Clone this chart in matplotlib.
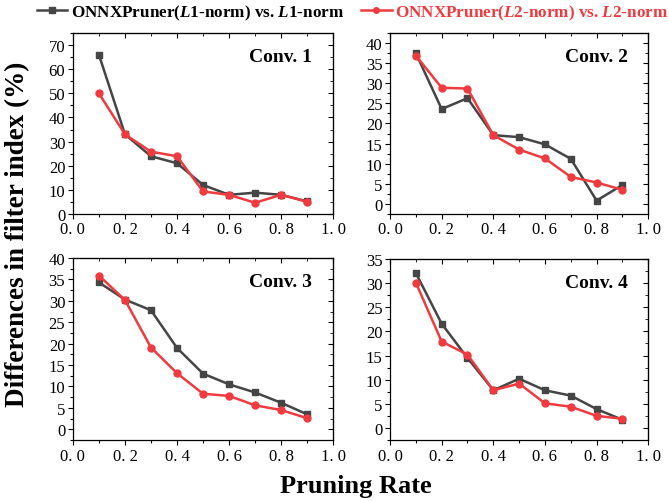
import matplotlib
matplotlib.use("Agg")
import matplotlib.pyplot as plt
from matplotlib.ticker import MultipleLocator, FuncFormatter
from matplotlib.lines import Line2D

# pruning rates
rates = [0.1, 0.2, 0.3, 0.4, 0.5, 0.6, 0.7, 0.8, 0.9]

# ONNXPruner(L1-norm) vs. L1-norm
conv1_l1 = [66, 33, 23.9, 21, 12, 7.9, 8.8, 7.9, 5.2]
conv2_l1 = [37.5, 23.6, 26.3, 17.1, 16.6, 14.8, 11.2, 0.8, 4.7]
conv3_l1 = [34.3, 30.3, 27.8, 19.0, 13.0, 10.5, 8.6, 6.2, 3.5]
conv4_l1 = [32.1, 21.6, 14.5, 7.8, 10.2, 7.8, 6.7, 3.9, 1.7]

# ONNXPruner(L2-norm) vs. L2-norm
conv1_l2 = [50, 33, 25.8, 23.9, 9.3, 7.9, 4.6, 7.9, 5.0]
conv2_l2 = [36.9, 28.9, 28.7, 17.1, 13.5, 11.3, 6.7, 5.3, 3.5]
conv3_l2 = [35.9, 30.2, 19.1, 13.1, 8.3, 7.8, 5.6, 4.5, 2.6]
conv4_l2 = [30.1, 17.9, 15.2, 7.8, 9.2, 5.1, 4.4, 2.5, 1.9]

titles = ["Conv. 1", "Conv. 2", "Conv. 3", "Conv. 4"]
ylims = [(0, 75), (-2.5, 42.5), (-2.5, 40), (-2.5, 35)]
ysteps = [10, 5, 5, 5]

GRAY = "#454545"
RED = "#ef3b3f"

plt.rcParams["font.family"] = ["Liberation Serif", "DejaVu Serif"]
plt.rcParams["mathtext.fontset"] = "custom"
plt.rcParams["mathtext.it"] = "Liberation Serif:italic:bold"
plt.rcParams["mathtext.rm"] = "Liberation Serif:bold"

fig = plt.figure(figsize=(6.69, 5.02), dpi=100)

# axes boxes [left, bottom, width, height]
boxes = [
    [0.109, 0.572, 0.389, 0.360],
    [0.583, 0.572, 0.386, 0.360],
    [0.109, 0.1215, 0.389, 0.3625],
    [0.583, 0.1215, 0.386, 0.3605],
]

l1_series = [conv1_l1, conv2_l1, conv3_l1, conv4_l1]
l2_series = [conv1_l2, conv2_l2, conv3_l2, conv4_l2]

# tick labels drawn like "0. 2"
fmt = FuncFormatter(lambda v, p: ("%.1f" % v).replace(".", ". "))

for i in range(4):
    ax = fig.add_axes(boxes[i])
    ax.plot(rates, l1_series[i], color=GRAY, marker="s", markersize=5, linewidth=1.8, zorder=3)
    ax.plot(rates, l2_series[i], color=RED, marker="o", markersize=5, linewidth=1.8, zorder=4)
    ax.set_xlim(0, 1.0)
    ax.set_ylim(*ylims[i])
    ax.xaxis.set_major_locator(MultipleLocator(0.2))
    ax.xaxis.set_minor_locator(MultipleLocator(0.1))
    ax.yaxis.set_major_locator(MultipleLocator(ysteps[i]))
    ax.yaxis.set_minor_locator(MultipleLocator(ysteps[i] / 2))
    ax.xaxis.set_major_formatter(fmt)
    ax.tick_params(which="major", direction="out", length=3.5, width=0.8, labelsize=12, pad=2)
    ax.tick_params(which="minor", direction="out", length=2, width=0.8)
    for s in ax.spines.values():
        s.set_linewidth(0.9)

    # mirrored ticks on top / right pointing inward
    top = ax.secondary_xaxis("top")
    top.xaxis.set_major_locator(MultipleLocator(0.2))
    top.xaxis.set_minor_locator(MultipleLocator(0.1))
    top.tick_params(which="major", direction="in", length=3.5, labeltop=False)
    top.tick_params(which="minor", direction="in", length=2)
    right = ax.secondary_yaxis("right")
    right.yaxis.set_major_locator(MultipleLocator(ysteps[i]))
    right.yaxis.set_minor_locator(MultipleLocator(ysteps[i] / 2))
    right.tick_params(which="major", direction="in", length=3.5, labelright=False)
    right.tick_params(which="minor", direction="in", length=2)

    ax.text(0.92, 0.87, titles[i], transform=ax.transAxes, ha="right", va="center",
            fontsize=14, fontweight="bold")

handles = [
    Line2D([], [], color=GRAY, marker="s", markersize=4, linewidth=1.8),
    Line2D([], [], color=RED, marker="o", markersize=4, linewidth=1.8),
]
labels = [
    r"ONNXPruner($\mathit{L}$1-norm) vs. $\mathit{L}$1-norm",
    r"ONNXPruner($\mathit{L}$2-norm) vs. $\mathit{L}$2-norm",
]
leg = fig.legend(handles, labels, loc="center", bbox_to_anchor=(0.527, 0.974), ncol=2,
                 frameon=False, prop={"weight": "bold", "size": 12.3}, handlelength=1.8,
                 handletextpad=0.2, columnspacing=1.0, borderaxespad=0)
leg.get_texts()[1].set_color(RED)

fig.text(0.027, 0.534, "Differences in filter index (%)", rotation=90, ha="center", va="center",
         fontsize=19.5, fontweight="bold")
fig.text(0.532, 0.03, "Pruning Rate", ha="center", va="center", fontsize=19, fontweight="bold")

fig.savefig("out.png", dpi=100)
